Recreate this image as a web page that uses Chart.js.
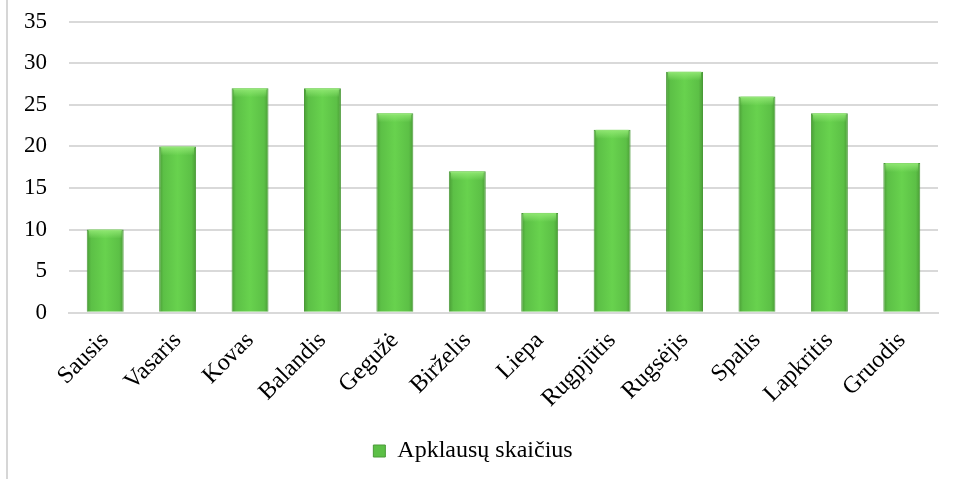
<!DOCTYPE html>
<html>
<head>
<meta charset="utf-8">
<script src="https://cdn.jsdelivr.net/npm/chart.js@4/dist/chart.umd.min.js"></script>
<style>
  html, body { margin: 0; padding: 0; background: #fff; }
  #wrap { position: relative; width: 953px; height: 479px; }
  #edge { position: absolute; left: 6px; top: 0; width: 2px; height: 479px; background: #d6d6d6; }
  canvas { position: absolute; left: 0; top: 0; }
</style>
</head>
<body>
<div id="wrap">
  <div id="edge"></div>
  <canvas id="chart" width="953" height="479"></canvas>
</div>
<script>
// Monthly survey counts.
const months = ["Sausis", "Vasaris", "Kovas", "Balandis", "Gegužė", "Birželis",
  "Liepa", "Rugpjūtis", "Rugsėjis", "Spalis", "Lapkritis", "Gruodis"];
const surveyCounts = [10, 20, 27, 27, 24, 17, 12, 22, 29, 26, 24, 18];
const seriesLabel = "Apklausų skaičius";
const yTicks = [0, 5, 10, 15, 20, 25, 30, 35];

const FONT = "'Liberation Serif', 'Times New Roman', serif";
const BAR_PCT = 0.51;

// Horizontal gradient per bar, so the bars look rounded like the original.
function barFill(ctx) {
  const chart = ctx.chart;
  const xs = chart.scales.x;
  if (!xs || !chart.chartArea || ctx.dataIndex === undefined) return "#62c94a";
  const cx = xs.getPixelForValue(ctx.dataIndex);
  const half = (xs.width / months.length) * BAR_PCT / 2;
  const g = chart.ctx.createLinearGradient(cx - half, 0, cx + half, 0);
  g.addColorStop(0, "#4a9c36");
  g.addColorStop(0.12, "#5cc046");
  g.addColorStop(0.5, "#68d24e");
  g.addColorStop(0.88, "#5cc046");
  g.addColorStop(1, "#4a9c36");
  return g;
}

// Lighter band along the top of every bar.
const topBevel = {
  id: "topBevel",
  afterDatasetsDraw(chart) {
    const c = chart.ctx;
    chart.getDatasetMeta(0).data.forEach((bar) => {
      const l = bar.x - bar.width / 2;
      const g = c.createLinearGradient(0, bar.y, 0, bar.y + 9);
      g.addColorStop(0, "rgba(150,235,120,0.9)");
      g.addColorStop(1, "rgba(150,235,120,0)");
      c.save();
      c.fillStyle = g;
      c.fillRect(l + 2, bar.y, bar.width - 4, 9);
      c.restore();
    });
  },
};

new Chart(document.getElementById("chart"), {
  type: "bar",
  data: {
    labels: months,
    datasets: [{
      label: seriesLabel,
      data: surveyCounts,
      backgroundColor: barFill,
      borderColor: "#4a9a38",
      borderWidth: 1,
      categoryPercentage: 1,
      barPercentage: BAR_PCT,
    }],
  },
  options: {
    responsive: false,
    animation: false,
    layout: { padding: { top: 0, right: 15, left: 8, bottom: 6 } },
    plugins: {
      tooltip: { enabled: false },
      legend: {
        position: "bottom",
        labels: {
          font: { family: FONT, size: 24 },
          color: "#000",
          boxWidth: 12,
          boxHeight: 12,
          padding: 10,
          generateLabels: () => [{
            text: seriesLabel,
            fillStyle: "#5cc046",
            strokeStyle: "#4a9a38",
            lineWidth: 1,
          }],
        },
      },
    },
    scales: {
      x: {
        grid: { display: false },
        border: { display: true, color: "#d9d9d9", width: 2 },
        ticks: {
          font: { family: FONT, size: 24 },
          color: "#000",
          minRotation: 45,
          maxRotation: 45,
          padding: 6,
        },
        afterFit: (s) => { s.height += 10; },
      },
      y: {
        min: 0,
        max: 35,
        afterBuildTicks: (s) => { s.ticks = yTicks.map((v) => ({ value: v })); },
        afterFit: (s) => { s.width = 61; },
        // transparent tick marks keep the gap between labels and grid
        grid: { color: "#d9d9d9", lineWidth: 2, drawTicks: true, tickLength: 14, tickColor: "rgba(0,0,0,0)" },
        border: { display: false },
        ticks: {
          font: { family: FONT, size: 23 },
          color: "#000",
          padding: 8,
        },
      },
    },
  },
  plugins: [topBevel],
});
</script>
</body>
</html>
